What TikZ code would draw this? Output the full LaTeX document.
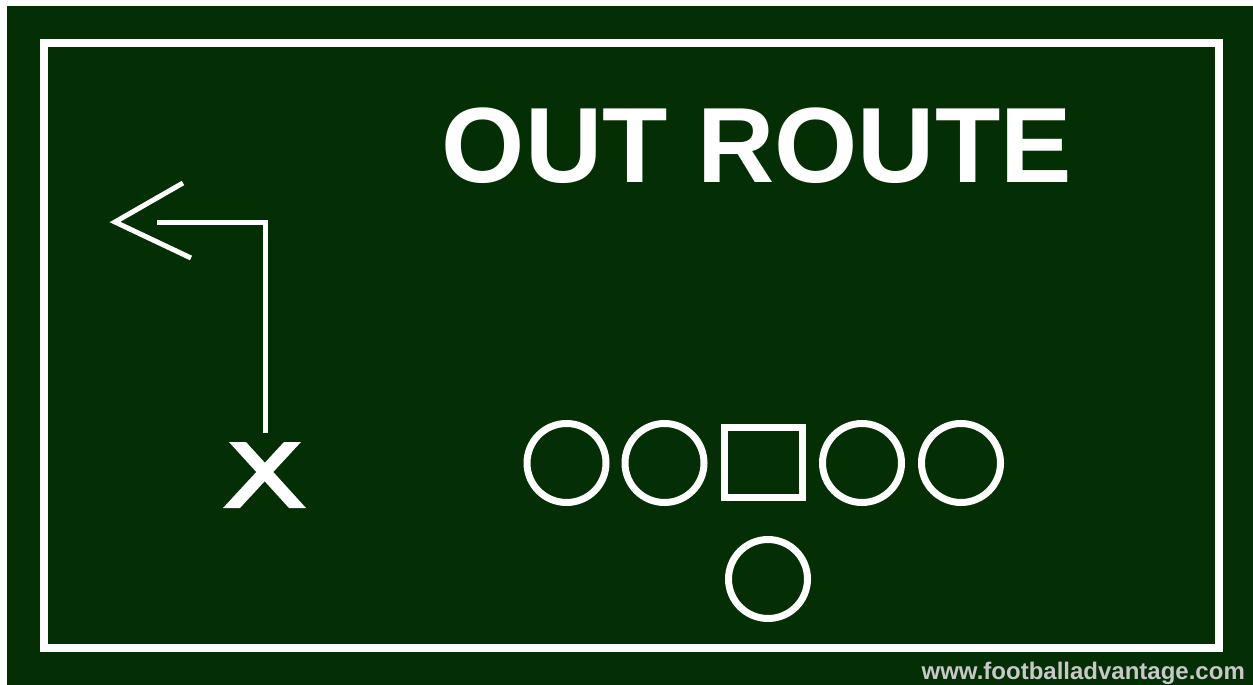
\documentclass[tikz,border=0pt]{standalone}
\usepackage{fontspec}
\setmainfont{Liberation Sans}
\definecolor{field}{RGB}{4,46,4}
\definecolor{webgrey}{RGB}{200,200,200}
\begin{document}
\begin{tikzpicture}[x=1pt,y=-1pt,
  chalk/.style={draw=white,line width=7pt},
  player/.style={chalk,circle,minimum size=79pt,inner sep=0pt},
  centre/.style={chalk,rectangle,minimum width=78pt,minimum height=70pt,inner sep=0pt},
  route/.style={draw=white,line width=5pt,line join=miter},
  xmark/.style={fill=white}]
\useasboundingbox (0,0) rectangle (1253,685);
\fill[white] (0,0) rectangle (1253,685);
\fill[field] (7,6) rectangle (1253,685);
\draw[white,line width=8pt] (44,43) rectangle (1219,647.5);
\node[white,font=\bfseries\fontsize{107}{107}\selectfont,inner sep=0pt] (title) at (757,146) {OUT ROUTE};
\node[webgrey,font=\bfseries\fontsize{24}{24}\selectfont,inner sep=0pt,anchor=east] (web) at (1245,673) {www.footballadvantage.com};
% offensive line
\node[player] (lt) at (566.5,463) {};
\node[player] (lg) at (664.5,463) {};
\node[centre] (c) at (763.5,462.5) {};
\node[player] (rg) at (862,463) {};
\node[player] (rt) at (961,463) {};
\node[player] (qb) at (768,579) {};
% receiver X
\fill[xmark] (229,442) -- (246,442) -- (306,508) -- (289,508) -- cycle;
\fill[xmark] (301,442) -- (284,442) -- (223,508) -- (240,508) -- cycle;
\coordinate (start) at (265,433);
\coordinate (corner) at (265,222);
\coordinate (cut) at (157,222);
\coordinate (tip) at (115,222);
\coordinate (armup) at (183,183);
\coordinate (armdown) at (191,258);
\draw[route] (start) -- (corner) -- (cut);
\draw[route] (armup) -- (tip) -- (armdown);
\end{tikzpicture}
\end{document}
